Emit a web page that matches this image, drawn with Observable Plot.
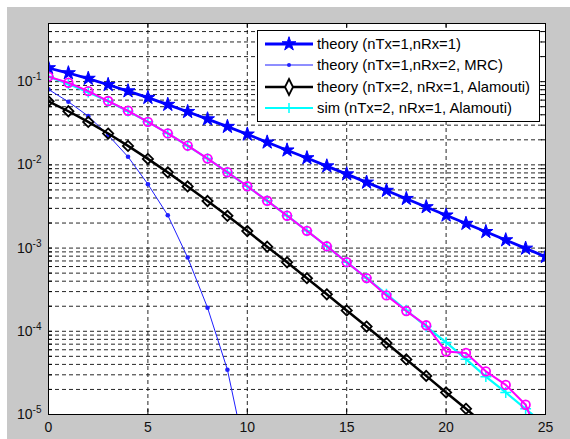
<!DOCTYPE html>
<html><head><meta charset="utf-8">
<script src="https://cdn.jsdelivr.net/npm/d3@7"></script>
<script src="https://cdn.jsdelivr.net/npm/@observablehq/plot@0.6"></script>
<style>
html,body{margin:0;padding:0;background:#fff;}
#wrap{position:relative;width:570px;height:439px;overflow:hidden;}
#bg{position:absolute;left:7px;top:7px;right:0;bottom:0;background:#c8c8c8;}
#chart{position:absolute;left:0;top:0;}
#legend{position:absolute;left:257px;top:30px;width:281px;height:90px;background:#fff;border:1px solid #000;font:14.8px "Liberation Sans",Arial,sans-serif;color:#000;}
.row{position:absolute;left:0;height:20px;display:flex;align-items:center;}
.row svg{margin-left:7px;display:block;}
.row span{margin-left:4px;white-space:nowrap;}
</style></head>
<body><div id="wrap"><div id="bg"></div><div id="chart"></div><div id="legend"></div></div>
<script>
// ---- data ----
const snrDb = [0,1,2,3,4,5,6,7,8,9,10,11,12,13,14,15,16,17,18,19,20,21,22,23,24,25];
const berTheory1x1 = [0.146,0.127,0.109,0.0919,0.0771,0.0642,0.0530,0.0435,0.0355,0.0288,0.0233,0.0187,0.0150,0.0121,0.00966,0.00774,0.00616,0.00491,0.00392,0.00312,0.00248,0.00197,0.00157,0.00125,0.000991,0.000788];
const snrMrc = [0,1,2,3,4,5,6,7,8,9,10];
const berMrc1x2 = [0.0807,0.0573,0.0385,0.0228,0.0125,0.00586,0.00248,0.000769,0.000192,0.0000345,0.0000026];
const snrAlamoutiTheory = [0,1,2,3,4,5,6,7,8,9,10,11,12,13,14,15,16,17,18,19,20,21,22];
const berAlamoutiTheory = [0.0581,0.0441,0.0328,0.0238,0.0169,0.0118,0.00813,0.00551,0.00368,0.00244,0.00160,0.00104,0.000674,0.000434,0.000278,0.000178,0.000114,0.0000722,0.0000459,0.0000291,0.0000184,0.0000117,0.0000074];
const berSimCyan = [0.115,0.0939,0.0748,0.0582,0.0442,0.0329,0.0239,0.0170,0.0119,0.00816,0.00553,0.00370,0.00245,0.00161,0.00105,0.000677,0.000436,0.000280,0.000179,0.000114,0.0000735,0.0000462,0.0000285,0.0000184,0.0000117,0.0000074];
const berSimMagenta = [0.115,0.097,0.077,0.0585,0.0447,0.0329,0.0239,0.0170,0.0119,0.00816,0.00553,0.00370,0.00245,0.00161,0.00105,0.000677,0.000436,0.000270,0.000175,0.000118,0.000057,0.000055,0.000033,0.0000227,0.0000131,0.0000034];

const xTicks = [0,5,10,15,20,25];
const xGrid = [5,10,15,20];
const yDecades = [-5,-4,-3,-2,-1];
const yMinor = [1,2,3,4,5,6,7,8,9];
const yTicks = yDecades.map(e => Math.pow(10, e));

const legendLabels = ["theory (nTx=1,nRx=1)","theory (nTx=1,nRx=2, MRC)","theory (nTx=2, nRx=1, Alamouti)","sim (nTx=2, nRx=1, Alamouti)"];
const colors = {star:"#0000ff", mrc:"#1f1fff", alam:"#000000", sim:"#00ffff", mag:"#ff00ff"};

// ---- build tables ----
const rows = (xs, ys) => xs.map((x, i) => ({x, y: ys[i]}));
const d1 = rows(snrDb, berTheory1x1);
const d2 = rows(snrMrc, berMrc1x2);
const d3a = rows(snrAlamoutiTheory, berAlamoutiTheory);
const d4 = rows(snrDb, berSimCyan);
const d5 = rows(snrDb, berSimMagenta);
const gridY = [];
yDecades.forEach(e => yMinor.forEach(m => { const v = m * Math.pow(10, e); if (v <= 0.5) gridY.push(v); }));

const W = 570, H = 439, mL = 48, mR = 25, mT = 23, mB = 25;
const pw = W - mL - mR, ph = H - mT - mB;
const fontFam = '"Liberation Sans", Arial, sans-serif';

const chart = Plot.plot({
  width: W, height: H,
  marginLeft: mL, marginRight: mR, marginTop: mT, marginBottom: mB,
  style: {background: "transparent", fontFamily: fontFam, fontSize: "14px", color: "#111", overflow: "visible"},
  x: {domain: [0, 25]},
  y: {type: "log", domain: [1e-5, 0.5]},
  marks: [
    Plot.frame({fill: "#fff", stroke: "none"}),
    Plot.ruleY(gridY, {y: d => d, stroke: "#000", strokeWidth: 1, strokeDasharray: "4,3", strokeOpacity: 0.85}),
    Plot.ruleX(xGrid, {x: d => d, stroke: "#000", strokeWidth: 1, strokeDasharray: "4,3", strokeOpacity: 0.85}),
    Plot.tickX(xTicks, {x: d => d, insetBottom: ph - 5, stroke: "#000"}),
    Plot.tickX(xTicks, {x: d => d, insetTop: ph - 5, stroke: "#000"}),
    Plot.tickY(gridY, {y: d => d, insetLeft: pw - 4, stroke: "#000"}),
    Plot.tickY(gridY, {y: d => d, insetRight: pw - 4, stroke: "#000"}),
    // theory 1x1
    Plot.line(d1, {x: "x", y: "y", stroke: colors.star, strokeWidth: 2.8, clip: true}),
    Plot.dot(d1, {x: "x", y: "y", symbol: "star", r: 4.4, fill: colors.star, stroke: colors.star, strokeWidth: 1, clip: true}),
    // MRC
    Plot.line(d2, {x: "x", y: "y", stroke: colors.mrc, strokeWidth: 1, clip: true}),
    Plot.dot(d2, {x: "x", y: "y", r: 2.3, fill: colors.mrc, stroke: "none", clip: true}),
    // Alamouti theory
    Plot.line(d3a, {x: "x", y: "y", stroke: colors.alam, strokeWidth: 2.5, clip: true}),
    Plot.dot(d3a, {x: "x", y: "y", symbol: "diamond2", r: 4.6, fill: "none", stroke: colors.alam, strokeWidth: 1.8, clip: true}),
    // sim (cyan)
    Plot.line(d4, {x: "x", y: "y", stroke: colors.sim, strokeWidth: 2.2, clip: true}),
    Plot.dot(d4, {x: "x", y: "y", symbol: "plus", r: 3.6, stroke: colors.sim, strokeWidth: 1.5, clip: true}),
    // magenta
    Plot.line(d5, {x: "x", y: "y", stroke: colors.mag, strokeWidth: 2, clip: true}),
    Plot.dot(d5, {x: "x", y: "y", r: 4.3, fill: "none", stroke: colors.mag, strokeWidth: 1.8, clip: true}),
    Plot.frame({stroke: "#000", strokeWidth: 1}),
    Plot.axisX({ticks: xTicks, tickSize: 0, tickPadding: 8, label: null, tickFormat: d => String(d), fontSize: 14}),
    Plot.axisY({ticks: yTicks, tickSize: 0, tickPadding: 7, label: null, tickFormat: d => "10^" + Math.round(Math.log10(d)), fontSize: 14})
  ]
});
document.getElementById("chart").appendChild(chart);

// superscript exponents in y tick labels
chart.querySelectorAll('g[aria-label="y-axis tick label"] text').forEach(t => {
  const parts = t.textContent.split("^");
  if (parts.length !== 2) return;
  t.textContent = "";
  const ns = "http://www.w3.org/2000/svg";
  const base = document.createElementNS(ns, "tspan");
  base.textContent = parts[0];
  const sup = document.createElementNS(ns, "tspan");
  sup.textContent = parts[1];
  sup.setAttribute("dy", "-6");
  sup.setAttribute("font-size", "10");
  t.appendChild(base); t.appendChild(sup);
});

// legend
const legend = document.getElementById("legend");
const rowTops = [3, 24, 46, 67];
const swatch = [
  `<line x1="0" y1="10" x2="48" y2="10" stroke="${colors.star}" stroke-width="3"/><path transform="translate(24,10)" d="${d3.symbol(d3.symbolStar, 60)()}" fill="${colors.star}" stroke="${colors.star}"/>`,
  `<line x1="0" y1="10" x2="48" y2="10" stroke="${colors.mrc}" stroke-width="1"/><circle cx="24" cy="10" r="2" fill="${colors.mrc}"/>`,
  `<line x1="0" y1="10" x2="48" y2="10" stroke="${colors.alam}" stroke-width="2.5"/><path d="M24,2 L28,10 L24,18 L20,10 Z" fill="#fff" stroke="${colors.alam}" stroke-width="1.8"/>`,
  `<line x1="0" y1="10" x2="48" y2="10" stroke="${colors.sim}" stroke-width="2.2"/><path d="M24,5 V15 M19,10 H29" stroke="${colors.sim}" stroke-width="1.5"/>`
];
legendLabels.forEach((lab, i) => {
  const r = document.createElement("div");
  r.className = "row";
  r.style.top = rowTops[i] + "px";
  r.innerHTML = `<svg width="48" height="20">${swatch[i]}</svg><span>${lab}</span>`;
  legend.appendChild(r);
});
</script>
</body></html>
